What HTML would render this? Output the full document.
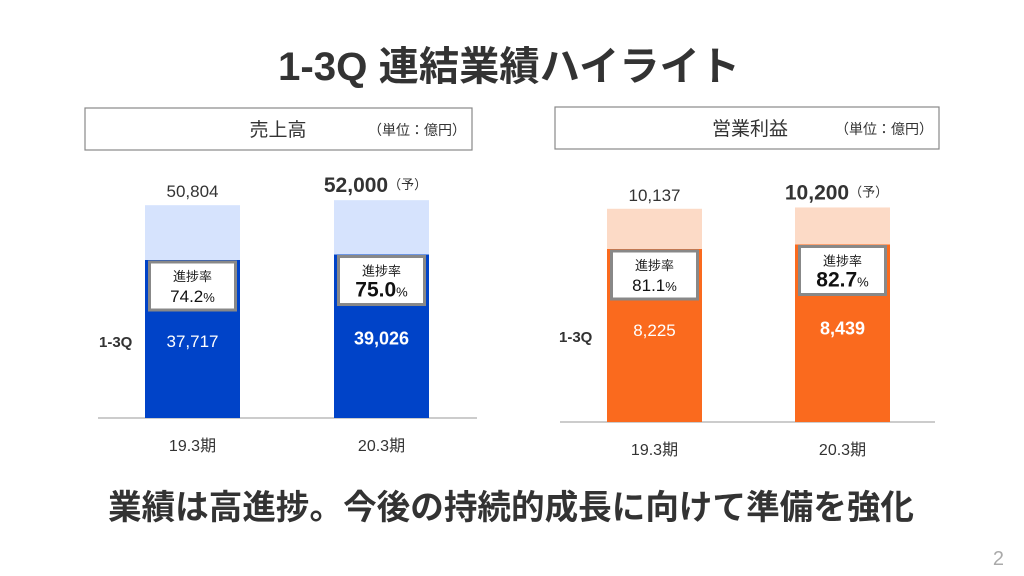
<!DOCTYPE html>
<html><head><meta charset="utf-8"><style>
html,body{margin:0;padding:0;background:#fff;}
svg{display:block;font-family:"Liberation Sans","Noto Sans CJK JP",sans-serif;}
</style></head><body>
<svg id="s" width="1024" height="576" viewBox="0 0 1024 576">
<text x="509" y="80" text-anchor="middle" font-size="40" font-weight="bold" fill="#333" textLength="462" lengthAdjust="spacingAndGlyphs">1-3Q 連結業績ハイライト</text>
<text x="511" y="519" text-anchor="middle" font-size="34" font-weight="bold" fill="#333" textLength="806" lengthAdjust="spacingAndGlyphs">業績は高進捗。今後の持続的成長に向けて準備を強化</text>
<text x="1004" y="565" text-anchor="end" font-size="20" fill="#aaa">2</text>
<g id="charts"></g>
</svg>
<script>
const periods = ["19.3期", "20.3期"];
const salesQ = [37717, 39026];
const salesFull = [50804, 52000];
const salesRate = ["74.2", "75.0"];
const profitQ = [8225, 8439];
const profitFull = [10137, 10200];
const profitRate = ["81.1", "82.7"];

const NS = "http://www.w3.org/2000/svg";
const root = document.getElementById("charts");
function el(tag, attrs, parent, text){
  const e = document.createElementNS(NS, tag);
  for (const k in attrs) e.setAttribute(k, attrs[k]);
  if (text !== undefined) e.textContent = text;
  (parent || root).appendChild(e);
  return e;
}
function fmt(v){ return v.toLocaleString("en-US"); }

function chart(cfg, qVals, fullVals, rates, prefix){
  const g = el("g", {});
  
  
  const hb = el("rect", {x:cfg.hx, y:cfg.hy, width:cfg.hw, height:42, fill:"#fff", stroke:"#888", "stroke-width":1.2}, g);
  
  
  const ht = el("text", {x:cfg.titleX, y:cfg.hy+28, "text-anchor":"middle", "font-size":19, fill:"#333"}, g, cfg.title);
  
  
  const hu = el("text", {x:cfg.hx+cfg.hw-6, y:cfg.hy+27, "text-anchor":"end", "font-size":14, fill:"#333"}, g, "（単位：億円）");
  
  
  const yS = v => cfg.base - v * cfg.scale;
  const ax = el("line", {x1:cfg.ax1, x2:cfg.ax2, y1:cfg.base, y2:cfg.base, stroke:"#bbb", "stroke-width":1.5}, g);
  
  
  const ql = el("text", {x:cfg.qlx, y:cfg.qly, "font-size":15, "font-weight":"bold", fill:"#333"}, g, "1-3Q");
  
  
  for (let i=0;i<qVals.length;i++){
    const x = cfg.bx[i], w = 95, cx = x + w/2;
    const topY = yS(fullVals[i]), midY = yS(qVals[i]);
    const r1 = el("rect", {x:x, y:topY, width:w, height:midY-topY, fill:cfg.light}, g);
    
    
    const r2 = el("rect", {x:x, y:midY, width:w, height:cfg.base-midY, fill:cfg.dark}, g);
    
    
    const forecast = i === 1;
    const tl = el("text", {x: forecast ? cx-6 : cx, y: topY-8, "text-anchor":"middle", "font-size": forecast?21:17, "font-weight": forecast?"bold":"normal", fill:"#333"}, g);
    
    
    tl.textContent = fmt(fullVals[i]);
    if (forecast){
      el("tspan", {"font-size":13, "font-weight":"normal", dy:-3}, tl, "（予）");
    }
    const by = midY + 2;
    const box = el("rect", {x:x+4.5, y:by, width:86, height:48, fill:"#fff", stroke:"#888", "stroke-width":3}, g);
    
    
    const pl = el("text", {x:cx, y:by+19, "text-anchor":"middle", "font-size":13, fill:"#222"}, g, "進捗率");
    
    
    const pv = el("text", {x:cx, y:by+40, "text-anchor":"middle", "font-size": forecast?21:17, "font-weight": forecast?"bold":"normal", fill:"#111"}, g, rates[i]);
    el("tspan", {"font-size":13, "font-weight":"normal"}, pv, "%");
    
    
    const qv = el("text", {x:cx, y: forecast ? midY+90 : midY+87, "text-anchor":"middle", "font-size": forecast?18:17, "font-weight": forecast?"bold":"normal", fill:"#fff"}, g, fmt(qVals[i]));
    
    
    const pxl = el("text", {x:cx, y:cfg.base+33, "text-anchor":"middle", "font-size":16, fill:"#333"}, g, periods[i]);
    
    
  }
}
chart({hx:85,hy:108,hw:387,title:"売上高",titleX:278,base:418,scale:158/37717,ax1:98,ax2:477,bx:[145,334],light:"#d6e3fd",dark:"#0043c8",qlx:99,qly:347}, salesQ, salesFull, salesRate, "sales");
chart({hx:555,hy:107,hw:384,title:"営業利益",titleX:750,base:422,scale:173/8225,ax1:560,ax2:935,bx:[607,795],light:"#fcdac6",dark:"#fa6a1e",qlx:559,qly:342}, profitQ, profitFull, profitRate, "profit");
</script>
</body></html>
